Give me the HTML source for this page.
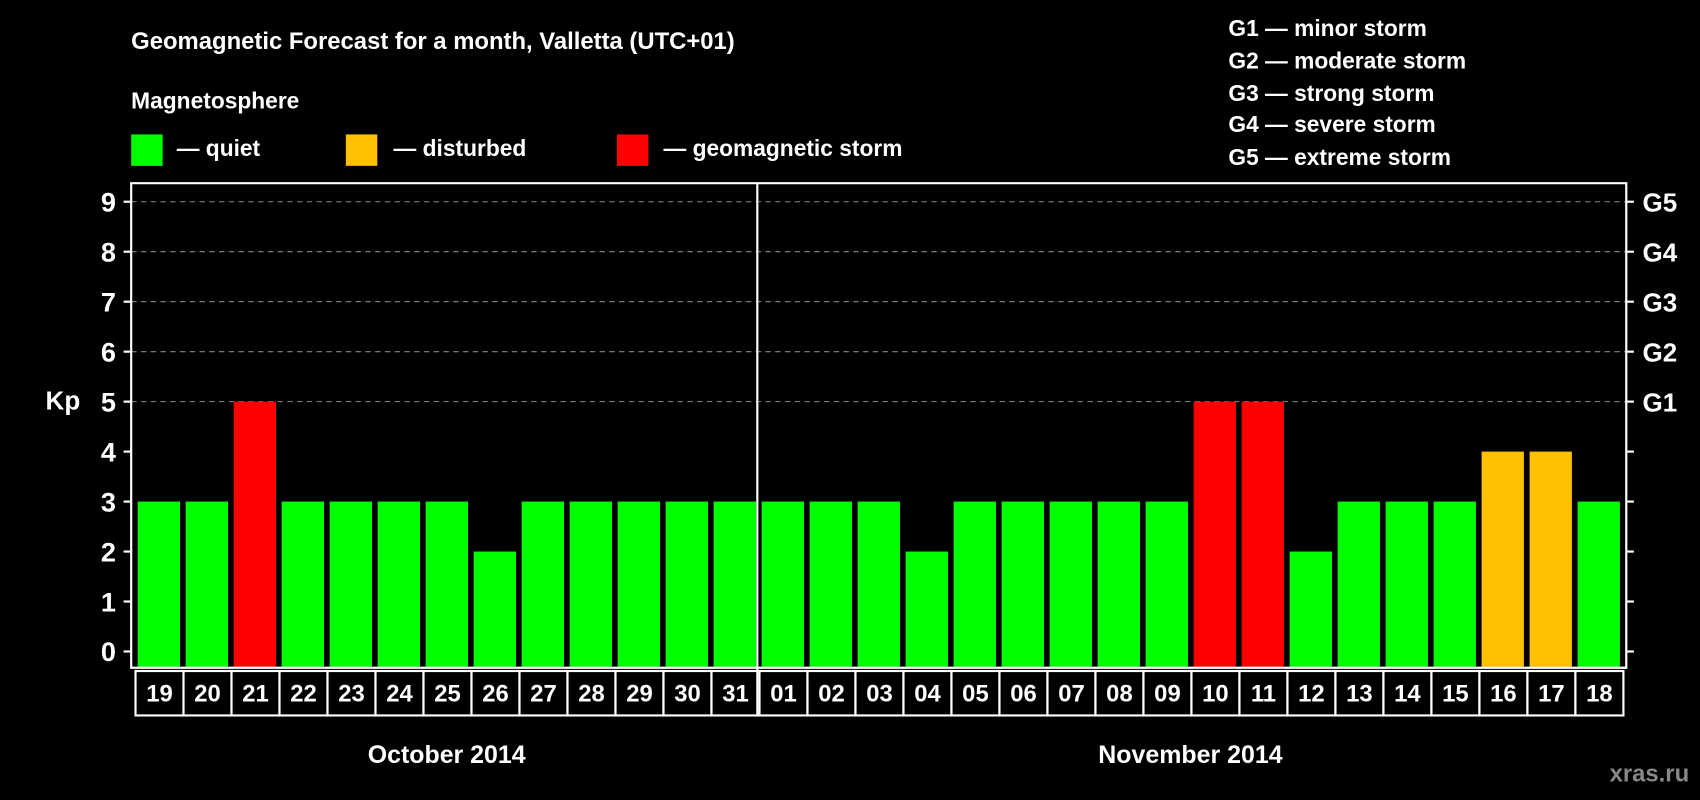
<!DOCTYPE html>
<html><head><meta charset="utf-8"><style>
html,body{margin:0;padding:0;background:#000;}
svg{display:block;font-family:"Liberation Sans",Arial,sans-serif;font-weight:bold;}
</style></head><body>
<svg width="1700" height="800" viewBox="0 0 1568 738" preserveAspectRatio="none">
<rect width="1568" height="738" fill="#000"/>
<text x="121" y="45" fill="#fff" font-size="22">Geomagnetic Forecast for a month, Valletta (UTC+01)</text>
<text x="121" y="100" fill="#fff" font-size="21">Magnetosphere</text>
<g><rect x="121" y="124" width="29" height="29" fill="#00ff00"/><text x="163" y="144" fill="#fff" font-size="21">— quiet</text></g>
<g><rect x="319" y="124" width="29" height="29" fill="#ffc000"/><text x="363" y="144" fill="#fff" font-size="21">— disturbed</text></g>
<g><rect x="569" y="124" width="29" height="29" fill="#ff0000"/><text x="612" y="144" fill="#fff" font-size="21">— geomagnetic storm</text></g>
<g fill="#fff" font-size="21">
<text x="1133" y="33">G1 — minor storm</text>
<text x="1133" y="63">G2 — moderate storm</text>
<text x="1133" y="93">G3 — strong storm</text>
<text x="1133" y="122">G4 — severe storm</text>
<text x="1133" y="152">G5 — extreme storm</text>
</g>
<text x="58" y="378" fill="#fff" font-size="24" text-anchor="middle">Kp</text>
<g id="plot"></g>
<text x="412" y="704" fill="#fff" font-size="23" text-anchor="middle">October 2014</text>
<text x="1098" y="704" fill="#fff" font-size="23" text-anchor="middle">November 2014</text>
<text x="1558" y="721" fill="#888" font-size="22" text-anchor="end">xras.ru</text>
</svg>
<script>
const days = ["19","20","21","22","23","24","25","26","27","28","29","30","31","01","02","03","04","05","06","07","08","09","10","11","12","13","14","15","16","17","18"];
const kpValues = [3,3,5,3,3,3,3,2,3,3,3,3,3,3,3,3,2,3,3,3,3,3,5,5,2,3,3,3,4,4,3];
const yTicks = [0,1,2,3,4,5,6,7,8,9];
const gLabels = ["","","","","","G1","G2","G3","G4","G5"];
const NS="http://www.w3.org/2000/svg";
const g=document.getElementById('plot');
const L=121,R=1500,T=169,B=616;
const y=v=>601-v*46.1;
const step=44.27, x0=125;
const x=i=>x0+i*step;
function mk(t,a){const e=document.createElementNS(NS,t);for(const k in a)e.setAttribute(k,a[k]);g.appendChild(e);return e;}
yTicks.forEach(v=>{
  if(v>=5){const l=mk('line',{x1:L,x2:R,y1:y(v),y2:y(v),stroke:'#888','stroke-dasharray':'5,4','stroke-width':1});
  
  }
  mk('line',{x1:L-7,x2:L,y1:y(v),y2:y(v),stroke:'#fff','stroke-width':2});
  mk('line',{x1:R,x2:R+7,y1:y(v),y2:y(v),stroke:'#fff','stroke-width':2});
  const t=mk('text',{x:L-14,y:y(v)+9,fill:'#fff','font-size':25,'text-anchor':'end'});t.textContent=v;
  
  
  if(gLabels[v]){const r=mk('text',{x:R+15,y:y(v)+9,fill:'#fff','font-size':24});r.textContent=gLabels[v];
  
  }
});
kpValues.forEach((v,i)=>{
  const c=v>=5?'#ff0000':(v>=4?'#ffc000':'#00ff00');
  const b=mk('rect',{x:x(i)+2,y:y(v),width:39,height:B-y(v)-1,fill:c});
  
  
  const bx=mk('rect',{x:x(i),y:619,width:step,height:41,fill:'#000',stroke:'#fff','stroke-width':2});
  
  
  const t=mk('text',{x:x(i)+step/2,y:647,fill:'#fff','font-size':22,'text-anchor':'middle'});t.textContent=days[i];
  
  
});
const fr=mk('path',{d:`M${L} ${T}H${R}V${B}H${L}Z`,fill:'none',stroke:'#fff','stroke-width':2});


const dv=mk('line',{x1:x(13)-2,x2:x(13)-2,y1:T,y2:660,stroke:'#fff','stroke-width':2});


</script>
</body></html>
